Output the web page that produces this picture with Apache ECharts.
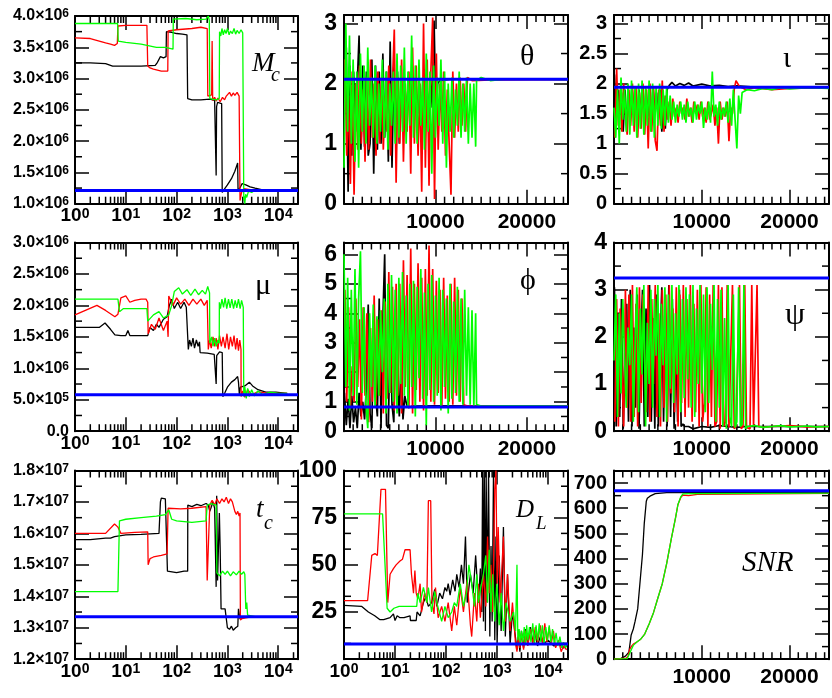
<!DOCTYPE html>
<html>
<head>
<meta charset="utf-8">
<title>MCMC chains</title>
<script src="https://cdn.jsdelivr.net/npm/echarts@6/dist/echarts.min.js"></script>
<style>
  html, body { margin: 0; padding: 0; background: #fff; }
  #chart { width: 832px; height: 698px; }
</style>
</head>
<body>
<div id="chart"></div>
<script>
// ---------- chain data ----------
// left column + D_L : [iteration, value] on a log iteration axis
// Mc in units of 1e6
var mcBlack = [[1,3.25],[2,3.25],[4,3.24],[5.5,3.2],[10,3.2],[20,3.2],[38,3.21],[42,3.26],[45,3.25],[48,3.35],[55,3.33],[62,3.35],[63,3.75],[80,3.74],[100,3.72],[130,3.71],[160,3.7],[165,2.68],[200,2.66],[300,2.66],[450,2.67],[560,2.65],[600,1.45],[612,2.55],[640,2.62],[770,2.6],[790,1.18],[900,1.25],[1000,1.3],[1200,1.4],[1400,1.52],[1590,1.65],[1620,1.2],[1750,1.22],[1950,1.32],[2300,1.3],[2800,1.27],[3500,1.25],[4900,1.22],[8000,1.22],[15000,1.22]];
var mcRed = [[1,3.65],[2,3.64],[3,3.6],[4,3.57],[5,3.55],[6,3.53],[6.8,3.56],[7,3.84],[10,3.85],[20,3.85],[26,3.85],[27,3.2],[30,3.17],[35,3.15],[50,3.12],[67,3.12],[68,3.76],[100,3.78],[200,3.8],[300,3.82],[400,3.8],[411,2.72],[490,2.74],[500,3.6],[513,2.65],[560,2.7],[600,2.64],[650,2.69],[720,2.63],[800,2.7],[880,2.66],[950,2.72],[1030,2.74],[1100,2.78],[1200,2.72],[1300,2.77],[1400,2.73],[1550,2.78],[1700,2.72],[1760,2.74],[1770,1.05],[1900,1.18],[2100,1.24],[3000,1.22],[15000,1.22]];
var mcGreen = [[1,3.88],[3,3.88],[6.9,3.88],[7.1,3.6],[10,3.58],[20,3.55],[40,3.5],[60,3.5],[85,3.47],[86,3.95],[150,3.96],[250,3.94],[380,3.95],[420,4.0],[440,3.93],[450,2.68],[600,2.66],[690,2.68],[700,3.75],[740,3.68],[780,3.8],[830,3.7],[880,3.78],[940,3.72],[1000,3.8],[1080,3.7],[1150,3.76],[1250,3.72],[1350,3.8],[1450,3.71],[1550,3.77],[1700,3.72],[1850,3.78],[2000,3.73],[2080,3.75],[2100,1.05],[2150,1.12],[2200,1.0],[2280,1.15],[2400,1.1],[2600,1.2],[3000,1.18],[3500,1.22],[5000,1.21],[10000,1.22],[15000,1.22]];
var mcTruth = 1.21;

// mu in units of 1e6
var muBlack = [[1,1.65],[2,1.65],[3,1.65],[3.9,1.72],[5,1.62],[6.1,1.53],[8,1.52],[10,1.52],[11,1.6],[12,1.52],[20,1.52],[27,1.52],[30,1.65],[35,1.6],[40,1.7],[45,1.65],[55,1.78],[65,1.82],[72,2.0],[80,2.1],[90,1.95],[105,2.05],[120,1.95],[140,2.05],[155,1.97],[166,2.0],[170,1.3],[180,1.45],[195,1.35],[210,1.48],[225,1.32],[245,1.45],[265,1.35],[282,1.42],[290,1.25],[400,1.24],[550,1.22],[590,1.25],[600,0.75],[615,1.2],[700,1.26],[790,1.25],[810,0.55],[900,0.62],[1000,0.7],[1200,0.78],[1400,0.82],[1590,0.87],[1650,0.78],[1720,0.58],[1800,0.7],[2200,0.72],[2700,0.78],[3130,0.72],[4000,0.66],[5700,0.62],[9000,0.62],[15000,0.6]];
var muRed = [[1,1.85],[2.7,2.0],[4,1.92],[6.1,1.82],[7,1.86],[8,2.12],[10,2.15],[12,2.05],[15,2.08],[20,2.1],[25,2.1],[27,2.05],[27.5,1.55],[32,1.7],[38,1.62],[45,1.8],[55,1.6],[65,1.75],[68,1.5],[70,2.15],[85,2.0],[100,2.12],[120,2.02],[145,2.1],[175,2.0],[210,2.1],[250,2.02],[300,2.1],[350,2.0],[400,2.08],[411,2.05],[420,1.3],[445,1.45],[480,1.32],[520,1.5],[560,1.35],[600,1.48],[650,1.3],[700,1.52],[760,1.35],[820,1.5],[900,1.32],[980,1.55],[1060,1.3],[1150,1.5],[1250,1.35],[1350,1.52],[1450,1.3],[1550,1.48],[1650,1.28],[1750,1.45],[1850,1.3],[1860,0.55],[2000,0.64],[2200,0.54],[2500,0.66],[3000,0.58],[4000,0.63],[6000,0.6],[15000,0.6]];
var muGreen = [[1,2.1],[7,2.1],[7.5,1.9],[9,1.95],[12,1.95],[20,1.95],[26,1.95],[27,1.75],[35,1.85],[45,1.9],[55,1.8],[70,1.85],[80,2.0],[90,2.22],[110,2.28],[130,2.18],[160,2.25],[190,2.16],[230,2.26],[270,2.17],[320,2.24],[370,2.18],[410,2.3],[445,2.2],[450,1.4],[490,1.5],[520,1.35],[560,1.48],[600,1.35],[650,1.45],[690,1.4],[694,2.05],[730,1.95],[780,2.1],[840,1.97],[900,2.12],[970,1.95],[1050,2.1],[1130,1.96],[1220,2.1],[1320,1.95],[1420,2.08],[1530,1.96],[1650,2.1],[1780,1.95],[1900,2.08],[2050,1.97],[2090,2.0],[2100,0.55],[2200,0.7],[2350,0.52],[2500,0.68],[2700,0.55],[3000,0.66],[3400,0.56],[4000,0.64],[5000,0.58],[7000,0.62],[10000,0.6],[15000,0.6]];
var muTruth = 0.58;

// t_c in units of 1e7
var tcBlack = [[1,1.58],[2,1.58],[4,1.585],[5,1.585],[6,1.59],[10,1.595],[20,1.597],[45,1.6],[48,1.7],[50,1.712],[60,1.71],[65,1.71],[66,1.48],[100,1.475],[140,1.48],[165,1.48],[166,1.69],[200,1.685],[250,1.692],[300,1.688],[380,1.695],[420,1.69],[450,1.67],[520,1.7],[560,1.68],[600,1.43],[615,1.72],[640,1.45],[694,1.665],[720,1.55],[750,1.36],[900,1.36],[1000,1.3],[1100,1.295],[1200,1.305],[1300,1.292],[1450,1.3],[1600,1.305],[1650,1.36],[1750,1.33],[2500,1.335],[15000,1.335]];
var tcRed = [[1,1.6],[4,1.6],[6,1.63],[7,1.62],[8,1.6],[15,1.603],[27,1.605],[27.5,1.5],[30,1.52],[35,1.525],[50,1.53],[65,1.535],[68,1.68],[120,1.678],[200,1.68],[380,1.685],[400,1.45],[411,1.45],[430,1.6],[450,1.69],[500,1.705],[560,1.69],[620,1.71],[700,1.695],[780,1.71],[860,1.7],[950,1.715],[1050,1.695],[1150,1.71],[1250,1.7],[1350,1.705],[1400,1.67],[1500,1.66],[1600,1.67],[1700,1.655],[1770,1.665],[1800,1.325],[2000,1.33],[3000,1.335],[15000,1.335]];
var tcGreen = [[1,1.415],[7,1.415],[7.5,1.64],[10,1.645],[20,1.65],[40,1.655],[60,1.66],[70,1.675],[80,1.645],[100,1.64],[200,1.635],[380,1.64],[400,1.69],[480,1.695],[600,1.69],[620,1.475],[700,1.465],[800,1.48],[900,1.47],[1000,1.48],[1150,1.465],[1300,1.478],[1500,1.468],[1700,1.48],[1900,1.47],[2100,1.478],[2200,1.47],[2300,1.36],[2400,1.38],[2500,1.34],[3500,1.335],[15000,1.335]];
var tcTruth = 1.335;

// D_L
var dlBlack = [[1,28.5],[2.2,28],[3,25],[4,23],[5,21],[6,21],[8,22],[9.3,24],[10,20.5],[11,23],[12.5,22],[15,22],[16,23],[19.7,23],[20,20.5],[26,20.5],[27,25],[31,23],[36,30],[40,33],[45,28],[52,30],[60,37],[66,28],[75,35],[85,32],[95,38],[103,36],[110,40],[120,34],[135,42],[150,36],[162,45],[180,38],[200,50],[219,40],[240,65],[260,30],[300,45],[340,35],[380,55],[430,30],[470,48],[500,25],[520,100],[540,20],[560,100],[590,15],[610,100],[640,30],[680,100],[720,12],[760,60],[800,20],[850,100],[900,10],[950,65],[1000,8],[1100,55],[1200,15],[1330,70],[1450,12],[1600,45],[1800,8],[2000,25],[2450,5],[2600,12],[2800,4],[3000,15],[3300,6],[3600,16],[4000,8],[4500,17],[5000,9],[5500,14],[6200,7],[7000,12],[8000,8],[10000,10],[13000,7],[16000,8],[20000,6],[23000,7]];
var dlRed = [[1,31],[2.9,31],[3.5,55],[4.05,56],[4.5,55],[5.3,90],[6.5,90],[7.2,30],[8,45],[9.3,48],[10.5,50],[12.5,52],[14,53],[15.7,58],[19.7,58],[21,45],[22,40],[23,35],[24.5,47],[26,35],[28,32],[31,40],[33,25],[38,35],[42,30],[45,84],[50,84],[53,30],[58,24],[62,38],[70,22],[82,28],[95,20],[110,30],[129,15],[145,28],[162,18],[190,38],[219,25],[260,42],[300,18],[318,12],[360,35],[400,20],[430,40],[470,22],[540,45],[600,28],[650,65],[700,35],[760,50],[820,25],[900,90],[950,100],[1000,40],[1050,70],[1150,30],[1330,65],[1450,20],[1600,45],[1800,15],[2000,30],[2300,8],[2450,4],[2600,12],[2800,6],[3000,14],[3300,5],[3600,15],[4000,7],[4500,16],[5000,8],[5600,17],[6200,9],[7000,18],[7800,8],[8600,19],[9500,9],[10500,17],[11500,8],[12700,15],[14000,6],[16000,10],[18000,4],[20000,7],[23000,5]];
var dlGreen = [[1,77],[5.7,77],[7,27],[8,25],[9.5,27],[12,28],[20,28],[26.6,28],[28,35],[31,30],[36,38],[42,30],[45,38],[52,25],[60,36],[66,30],[82,20],[95,28],[110,22],[129,25],[145,30],[162,28],[190,40],[219,28],[250,35],[280,50],[318,40],[360,28],[400,45],[430,30],[480,38],[540,45],[600,55],[650,30],[700,58],[760,25],[820,45],[900,20],[985,40],[1100,18],[1200,35],[1330,15],[1500,30],[1800,20],[2100,25],[2300,15],[2450,50],[2550,10],[2700,16],[2850,8],[3000,15],[3200,9],[3400,17],[3600,8],[3800,18],[4000,10],[4300,17],[4600,9],[5000,19],[5400,8],[5800,18],[6200,10],[6700,19],[7200,9],[7700,18],[8300,8],[9000,17],[9700,10],[10500,18],[11300,9],[12200,16],[13200,8],[14300,14],[15500,7],[17000,12],[18500,6],[20000,9],[22000,6],[23000,8]];
var dlTruth = 8;

// linear panels: samples every STEP iterations (offset per chain), then a settled tail
var STEP = 200;
var thetaGreenVals = [0.6,3.0,1.2,2.8,1.0,2.4,0.7,2.2,0.6,2.5, 1.2,2.3,1.0,2.6,1.3,2.1,1.1,2.3,1.0,2.0, 1.2,2.4,1.1,2.2,0.9,2.0,1.3,2.2,1.0,2.5, 1.1,2.3,1.2,2.6,1.0,2.2,1.3,2.8,1.1,2.3, 1.0,2.4,1.3,2.1,0.9,2.5,1.2,2.2,0.5,2.3, 1.1,2.1,1.3,2.4,1.0,2.2,0.6,2.0,1.2,2.1, 1.1,1.9,1.3,2.2,1.1,2.0,1.2,2.1,1.0,2.0, 1.1,2.0,0.95];
var thetaGreenTail = [[14500,2.05],[15000,2.1],[16000,2.05],[18000,2.08],[24500,2.07]];
var thetaRedVals = [2.4,0.8,1.8,0.33,2.2,0.15,2.0,0.9,2.3,1.0, 1.9,0.7,2.1,0.9,2.4,1.1,2.0,0.8,2.2,1.0, 2.1,0.9,1.8,1.2,2.3,0.8,2.0,2.9,0.35,2.1, 1.0,2.4,0.7,2.0,1.2,2.2,0.5,2.6,1.0,2.3, 0.8,2.0,0.2,3.0,0.6,2.4,0.3,2.2,3.1,0.08, 2.5,0.9,2.0,1.2,2.2,0.8,1.9,1.0,0.15,2.2, 1.1,2.0,1.2,2.1,1.3,2.0,1.2];
var thetaRedTail = [[13500,2.1],[14000,2.05],[16000,2.06],[24500,2.07]];
var thetaBlackVals = [1.5,2.6,0.2,2.3,0.8,2.2,1.2,2.0,2.8,0.9, 2.3,0.95,2.2,0.8,1.0,2.4,0.5,2.3,0.9,2.2, 1.0,2.5,1.1,2.2,0.7,2.7,0.6,2.3,1.2,2.2, 1.0,2.1,1.3,2.0,1.4,2.1,1.5,2.0,1.4,2.1, 1.5,2.0,1.3,2.1,1.5,2.0,1.4,2.1,1.6,3.05, 1.5,2.0];
var thetaBlackTail = [[10500,2.05],[12000,2.08],[24500,2.07]];
var thetaTruth = 2.07;

var iotaGreenVals = [1.6,1.1,1.9,1.0,2.1,1.4,1.9,1.2,2.0,1.15, 2.05,1.3,1.95,1.1,2.0,1.25,2.05,1.15,1.95,1.3, 2.05,1.2,2.0,1.1,1.95,1.3,2.0,1.25,1.9,1.3, 1.95,1.35,1.8,1.4,1.7,1.35,1.65,1.45,1.7,1.4, 1.65,1.35,1.7,1.45,1.6,1.35,1.7,1.4,1.65,1.5, 1.7,1.26,1.6,1.4,1.7,1.35,2.2,1.45,1.65,1.3, 1.7,1.4,1.6,1.45,1.7,1.35,1.75,1.3,1.9,1.4, 0.92,1.8,1.5];
var iotaGreenTail = [[14600,1.85],[15200,1.9],[16000,1.88],[17000,1.92],[18000,1.9],[19000,1.93],[20000,1.91],[22000,1.93],[24500,1.92]];
var iotaRedVals = [1.1,2.25,1.3,1.9,1.2,2.0,1.5,1.15,1.9,1.3, 2.0,1.2,1.95,1.1,1.85,1.25,2.0,1.15,1.9,0.92, 2.0,1.2,1.95,1.05,0.88,1.9,1.3,2.05,1.2,1.8, 1.4,1.7,1.3,1.75,1.45,1.6,1.35,1.7,1.5,1.6, 1.4,1.75,1.45,1.6,1.35,1.7,1.5,1.65,1.4,1.7, 1.45,1.6,1.35,1.7,1.4,1.5,1.65,1.3,1.6,1.0, 1.7,1.4,1.6,1.45,1.7,1.04,1.6,1.5,1.9,2.05];
var iotaRedTail = [[14300,1.95],[15000,1.9],[16000,1.93],[18000,1.9],[20000,1.92],[24500,1.93]];
var iotaBlackVals = [2.15,1.4,1.9,1.6,1.85,1.2,1.9,1.3,1.8,1.4, 1.95,1.5,1.8,1.35,1.9,1.5,1.85,1.4,1.9,1.45, 1.85,1.3,1.95,1.5,1.85,1.4,1.9,1.2,1.8,1.25, 1.9];
var iotaBlackTail = [[6300,1.97],[6600,2.02],[7000,1.96],[7500,2.0],[8000,1.97],[8500,2.01],[9000,1.96],[10000,1.99],[11000,1.96],[12000,1.97],[13000,1.95],[14000,1.96],[16000,1.94],[24500,1.94]];
var iotaTruth = 1.94;

var phiGreenVals = [6.0,1.5,5.2,0.7,4.8,1.2,5.5,0.9,4.5,6.1, 1.3,4.2,0.9,0.1,4.0,1.5,4.3,0.8,3.9,1.2, 4.1,2.0,4.5,0.6,5.0,1.3,5.3,1.0,4.8,0.6, 5.2,1.6,5.4,1.2,4.6,0.8,5.0,1.5,5.1,0.5, 4.9,1.8,5.5,1.1,4.7,0.2,5.0,1.4,5.3,1.0, 4.6,1.2,5.2,0.7,4.8,1.5,4.5,0.6,5.0,1.1, 4.4,1.3,4.9,1.0,4.5,0.9,4.8,1.2,4.2,0.9, 4.1,0.8,4.0];
var phiGreenTail = [[14500,0.9],[15000,0.85],[17000,0.86],[24500,0.85]];
var phiRedVals = [4.8,1.0,4.2,0.8,2.2,1.0,4.5,1.5,3.8,0.4, 4.2,1.2,4.0,0.3,3.5,1.0,4.6,0.9,3.8,1.2, 4.1,0.6,4.4,1.1,5.4,1.3,4.9,0.7,5.0,1.2, 5.0,0.6,5.8,1.5,5.3,0.8,6.2,0.6,5.0,1.4, 5.7,1.0,5.2,0.7,5.5,1.2,6.3,1.0,5.5,0.9, 5.1,1.3,4.8,0.8,5.2,1.1,4.6,1.0,5.0,0.9, 5.2,1.2,4.8,1.0,4.5,0.9,0.9];
var phiRedTail = [[13500,0.85],[15000,0.86],[18000,0.84],[24500,0.85]];
var phiBlackVals = [1.3,0.2,1.1,0.1,1.2,0.3,0.8,0.1,1.3,0.5, 1.0,0.4,1.5,4.3,0.6,0.1,4.0,1.2,0.5,4.5, 0.1,3.8,6.0,0.2,0.1,3.5,0.9,0.3,4.0,1.7, 0.5,2.5,0.4,1.2,0.9,0.8,0.85];
var phiBlackTail = [[7500,0.85],[10000,0.86],[15000,0.85],[24500,0.85]];
var phiTruth = 0.82;

var psiGreenVals = [1.5,2.9,0.3,2.5,0.8,2.8,1.6,0.5,2.2,1.4, 2.9,0.2,1.8,3.05,0.4,2.6,1.2,3.1,0.1,2.3, 1.0,3.0,0.5,2.8,1.6,3.1,0.3,2.7,1.4,3.05, 0.2,2.9,0.9,3.1,0.6,2.5,1.2,3.1,0.4,2.8, 0.7,3.05,1.1,2.9,0.5,3.1,0.3,2.6,1.0,3.1, 0.8,2.9,0.4,3.05,0.6,2.7,1.3,3.1,0.2,2.8, 0.5,3.0,0.1,2.4,0.05,3.1,0.3,0.1,2.9,0.08, 0.2,3.05,0.1,0.15,3.1,0.05,0.1];
var psiGreenTail = [[15400,0.1],[16000,0.12],[17000,0.08],[18000,0.1],[19000,0.12],[20000,0.09],[21000,0.1],[22000,0.11],[23000,0.09],[24500,0.1]];
var psiRedVals = [0.2,2.8,0.1,2.6,1.3,0.1,3.0,0.5,2.9,0.2, 3.1,0.3,2.7,0.1,3.05,0.6,2.9,1.5,0.4,3.1, 0.2,2.8,1.0,3.1,0.3,2.5,0.1,3.0,0.5,2.9, 0.2,3.1,0.8,2.6,0.4,3.05,0.1,2.9,0.6,3.1, 0.3,2.8,0.5,3.1,0.2,2.7,0.4,3.0,0.1,3.1, 0.2,0.6,3.05,0.1,2.9,0.3,3.1,0.1,0.2,3.1, 0.05,3.05,0.1,0.2,3.1,0.08,0.1,3.1,0.05,0.1, 0.1,3.1,0.05,0.1,3.1,0.08,0.1,0.05,3.1,0.1, 0.08,3.1,0.1,0.1];
var psiRedTail = [[17000,0.08],[18000,0.1],[20000,0.12],[22000,0.09],[24500,0.1]];
var psiBlackVals = [3.05,0.1,2.5,0.3,2.8,0.05,1.5,2.7,0.2,3.0, 0.1,2.2,0.5,2.9,0.05,1.8,3.0,0.1,2.6,0.3, 3.1,0.2,2.4,0.05,2.9,0.1,1.9,3.05,0.2,2.5, 0.1,3.1,0.3,2.8,0.05,2.0,0.2,3.0,0.1,0.15, 0.1];
var psiBlackTail = [[8500,0.1],[9000,0.05],[10000,0.1],[11000,0.08],[12000,0.12],[13000,0.1],[14000,0.08],[15000,0.1],[24500,0.1]];
var psiTruth = 3.25;

var snrBlack = [[0,2],[800,3],[1000,10],[1300,12],[1500,15],[1700,28],[1800,25],[1950,95],[2200,120],[2400,150],[2700,200],[3000,320],[3240,415],[3450,540],[3680,628],[3800,640],[3900,638],[4100,648],[4700,658],[6000,662],[24500,663]];
var snrRed = [[0,0],[1400,4],[1600,12],[1800,40],[2000,52],[2200,60],[2600,68],[3000,78],[3500,100],[4000,140],[4500,185],[5000,243],[5500,300],[6000,380],[6550,482],[7000,560],[7290,615],[7600,642],[7850,652],[8500,650],[9500,655],[24500,659]];
var snrGreen = [[0,0],[1500,2],[1700,5],[1800,25],[2000,40],[2200,55],[2600,68],[3000,78],[3500,100],[4000,140],[4500,185],[5000,243],[5500,300],[6000,380],[6550,482],[7000,560],[7290,615],[7600,645],[7850,657],[9000,658],[24500,660]];
var snrTruth = 670;

// ---------- helpers ----------
var SANS = '"Liberation Sans", Arial, sans-serif';
var SERIF = '"Liberation Serif", "DejaVu Serif", serif';

function chain(vals, offset, tail) {
	var out = [];
	for (var i = 0; i < vals.length; i++) {
		out.push([offset + i * STEP, vals[i]]);
	}
	return out.concat(tail);
}

function isStep(v, s) {
	var r = v / s;
	return Math.abs(r - Math.round(r)) < 1e-6;
}

function sci(mant, exp) {
	return '{m|' + mant + '×10}{s|' + exp + '}';
}
function fmtMc(v) { return isStep(v, 0.5) ? sci(v.toFixed(1), 6) : ''; }
function fmtMu(v) {
	if (!isStep(v, 0.5)) return '';
	if (Math.abs(v) < 1e-9) return '{m|0.0}';
	if (v < 1) return sci((v * 10).toFixed(1), 5);
	return sci(v.toFixed(1), 6);
}
function fmtTc(v) { return isStep(v, 0.1) ? sci(v.toFixed(1), 7) : ''; }
function fmtInt(v) { return isStep(v, 1) ? String(Math.round(v)) : ''; }
function fmtSnr(v) { return isStep(v, 100) ? String(Math.round(v)) : ''; }
function fmtHalf(v) { return isStep(v, 0.5) ? String(Math.round(v * 2) / 2) : ''; }
function fmtDl(v) { return (v > 0 && isStep(v, 25)) ? String(Math.round(v)) : ''; }
function fmtLog(v) {
	var e = Math.round(Math.log(v) / Math.LN10);
	if (Math.abs(v - Math.pow(10, e)) > 1e-6 * v) return '';
	return '{m|10}{s|' + e + '}';
}
function fmtLin(v) { return (v > 0 && isStep(v, 10000)) ? String(v) : ''; }

function minorList(min, max, minor, major) {
	var out = [];
	for (var k = Math.ceil(min / minor - 1e-9); k * minor < max - 1e-9; k++) {
		var v = k * minor;
		if (v <= min + 1e-9 || isStep(v, major)) continue;
		out.push(v);
	}
	return out;
}
function logMinor(max) {
	var out = [];
	for (var e = 0; e < 5; e++) {
		for (var m = 2; m <= 9; m++) {
			var v = m * Math.pow(10, e);
			if (v < max) out.push(v);
		}
	}
	return out;
}

// ---------- layout ----------
var colLeft = [75, 344, 614];
var colWidth = [223, 224, 224];
var rowTop = [15, 242.5, 470.5];
var rowHeight = 188.7;
var LOG_MAX = 24500, LIN_MAX = 24500;

var panels = [
	{ col: 0, row: 0, log: true,  yMin: 1,   yMax: 4,       yMajor: 0.5, yMinor: 0.25, fmt: fmtMc, sci: true, chains: [mcBlack, mcRed, mcGreen], truth: mcTruth },
	{ col: 1, row: 0, log: false, yMin: 0,   yMax: Math.PI, yMajor: 1,   yMinor: 0.5,  fmt: fmtInt, size: 23,
		chains: [chain(thetaBlackVals, 50, thetaBlackTail), chain(thetaRedVals, 100, thetaRedTail), chain(thetaGreenVals, 0, thetaGreenTail)], truth: thetaTruth },
	{ col: 2, row: 0, log: false, yMin: 0,   yMax: Math.PI, yMajor: 0.5, yMinor: 0.25, fmt: fmtHalf, size: 20,
		chains: [chain(iotaBlackVals, 50, iotaBlackTail), chain(iotaRedVals, 100, iotaRedTail), chain(iotaGreenVals, 0, iotaGreenTail)], truth: iotaTruth },
	{ col: 0, row: 1, log: true,  yMin: 0,   yMax: 3,       yMajor: 0.5, yMinor: 0.25, fmt: fmtMu, sci: true, chains: [muBlack, muRed, muGreen], truth: muTruth },
	{ col: 1, row: 1, log: false, yMin: 0,   yMax: 6.4,     yMajor: 1,   yMinor: 0.5,  fmt: fmtInt, size: 23,
		chains: [chain(phiBlackVals, 50, phiBlackTail), chain(phiRedVals, 100, phiRedTail), chain(phiGreenVals, 0, phiGreenTail)], truth: phiTruth },
	{ col: 2, row: 1, log: false, yMin: 0,   yMax: 4,       yMajor: 1,   yMinor: 0.5,  fmt: fmtInt, size: 23,
		chains: [chain(psiBlackVals, 50, psiBlackTail), chain(psiRedVals, 100, psiRedTail), chain(psiGreenVals, 0, psiGreenTail)], truth: psiTruth },
	{ col: 0, row: 2, log: true,  yMin: 1.2, yMax: 1.8,     yMajor: 0.1, yMinor: 0.05, fmt: fmtTc, sci: true, chains: [tcBlack, tcRed, tcGreen], truth: tcTruth },
	{ col: 1, row: 2, log: true,  yMin: 0,   yMax: 100,     yMajor: 25,  yMinor: 25 / 3, fmt: fmtDl, size: 23, chains: [dlBlack, dlRed, dlGreen], truth: dlTruth },
	{ col: 2, row: 2, log: false, yMin: 0,   yMax: 750,     yMajor: 100, yMinor: 50,   fmt: fmtSnr, size: 20, chains: [snrBlack, snrRed, snrGreen], truth: snrTruth, smooth: true }
];

var chainColors = ['#000000', '#ff0000', '#00ff00'];

var supRichY = {
	m: { fontSize: 16, fontWeight: 'bold', fontFamily: SANS, color: '#000', lineHeight: 16, padding: [8, 0, 0, 0], verticalAlign: 'bottom' },
	s: { fontSize: 12, fontWeight: 'bold', fontFamily: SANS, color: '#000', lineHeight: 12, verticalAlign: 'top' }
};
var supRichX = {
	m: { fontSize: 19, fontWeight: 'bold', fontFamily: SANS, color: '#000', lineHeight: 19, padding: [7, 0, 0, 0], verticalAlign: 'bottom' },
	s: { fontSize: 14, fontWeight: 'bold', fontFamily: SANS, color: '#000', lineHeight: 14, verticalAlign: 'top' }
};

var frameLine = { show: true, onZero: false, lineStyle: { color: '#000', width: 2 } };
var majorTick = { show: true, inside: true, length: 14, lineStyle: { color: '#000', width: 1.5 } };

// ---------- build option ----------
var grids = [], xAxes = [], yAxes = [], series = [];

panels.forEach(function (p, g) {
	var xMin = p.log ? 1 : 0;
	var xMax = p.log ? LOG_MAX : LIN_MAX;
	// dense sampled traces need a slightly thicker pen to fill like the original
	var penWidth = (!p.log && !p.smooth) ? 1.7 : 1.3;

	grids.push({ left: colLeft[p.col], top: rowTop[p.row], width: colWidth[p.col], height: rowHeight });

	// x axes, bottom with labels + top mirror
	['bottom', 'top'].forEach(function (pos) {
		var ax = {
			gridIndex: g, position: pos, type: p.log ? 'log' : 'value', min: xMin, max: xMax,
			axisLine: frameLine, axisTick: majorTick, splitLine: { show: false }, minorTick: { show: false },
			axisLabel: { show: false }
		};
		if (p.log) { ax.logBase = 10; } else { ax.interval = 10000; }
		if (pos === 'bottom') {
			ax.axisLabel = p.log
				? { show: true, margin: 3, formatter: fmtLog, rich: supRichX }
				: { show: true, margin: 8, formatter: fmtLin, color: '#000', fontSize: 21, fontWeight: 'bold', fontFamily: SANS };
		}
		xAxes.push(ax);
	});

	// y axes, left with labels + right mirror
	['left', 'right'].forEach(function (pos) {
		var ax = {
			gridIndex: g, position: pos, type: 'value', min: p.yMin, max: p.yMax, interval: p.yMajor,
			axisLine: frameLine, axisTick: majorTick, splitLine: { show: false },
			axisLabel: { show: false }
		};
		if (pos === 'left') {
			ax.axisLabel = p.sci
				? { show: true, margin: 6, formatter: p.fmt, rich: supRichY }
				: { show: true, margin: 7, formatter: p.fmt, color: '#000', fontSize: p.size, fontWeight: 'bold', fontFamily: SANS };
		}
		yAxes.push(ax);
	});

	// chains: black, red, green
	p.chains.forEach(function (d, c) {
		series.push({
			type: 'line', xAxisIndex: 2 * g, yAxisIndex: 2 * g, data: d,
			symbol: 'none', silent: true, animation: false,
			lineStyle: { color: chainColors[c], width: penWidth }
		});
	});

	// true value
	series.push({
		type: 'line', xAxisIndex: 2 * g, yAxisIndex: 2 * g, data: [[xMin, p.truth], [xMax, p.truth]],
		symbol: 'none', silent: true, animation: false,
		lineStyle: { color: '#0000ff', width: 3 }
	});

	// minor ticks on all four sides
	var tickData = [];
	var xs = p.log ? logMinor(xMax) : minorList(0, xMax, 1000, 10000);
	xs.forEach(function (v) { tickData.push([v, p.yMin, 0]); });
	minorList(p.yMin, p.yMax, p.yMinor, p.yMajor).forEach(function (v) { tickData.push([xMin, v, 1]); });
	series.push({
		type: 'custom', xAxisIndex: 2 * g, yAxisIndex: 2 * g, data: tickData, silent: true, animation: false,
		renderItem: function (params, api) {
			var pt = api.coord([api.value(0), api.value(1)]);
			var cs = params.coordSys;
			var len = 7, segs;
			if (api.value(2) === 0) {
				segs = [[pt[0], cs.y + cs.height, pt[0], cs.y + cs.height - len], [pt[0], cs.y, pt[0], cs.y + len]];
			} else {
				segs = [[cs.x, pt[1], cs.x + len, pt[1]], [cs.x + cs.width, pt[1], cs.x + cs.width - len, pt[1]]];
			}
			return {
				type: 'group',
				children: segs.map(function (s) {
					return { type: 'line', shape: { x1: s[0], y1: s[1], x2: s[2], y2: s[3] }, style: { stroke: '#000', lineWidth: 1.5 } };
				})
			};
		}
	});
});

// panel names
function name(text, left, top, font) {
	return { type: 'text', left: left, top: top, z: 100, style: { text: text, font: font, fill: '#000' } };
}
var graphics = [
	name('M', 252, 50, 'italic 27px ' + SERIF), name('c', 271, 66, 'italic 20px ' + SERIF),
	name('θ', 520, 42, '30px ' + SERIF),
	name('ι', 783, 44, '30px ' + SERIF),
	name('μ', 255, 271, '30px ' + SERIF),
	name('ϕ', 520, 266, '30px ' + SERIF),
	name('ψ', 785, 300, '32px ' + SERIF),
	name('t', 256, 496, 'italic 27px ' + SERIF), name('c', 264, 514, 'italic 20px ' + SERIF),
	name('D', 516, 498, 'italic 25px ' + SERIF), name('L', 536, 514, 'italic 19px ' + SERIF),
	name('SNR', 742, 549, 'italic 29px ' + SERIF)
];

var chart = echarts.init(document.getElementById('chart'));
chart.setOption({
	animation: false,
	backgroundColor: '#ffffff',
	grid: grids,
	xAxis: xAxes,
	yAxis: yAxes,
	series: series,
	graphic: graphics
});
</script>
</body>
</html>
